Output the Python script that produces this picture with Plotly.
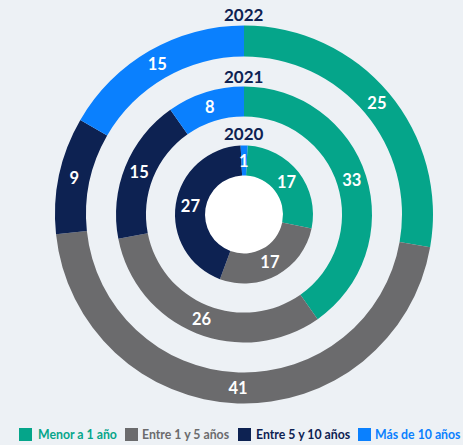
import math
import plotly.graph_objects as go

# ---- data ----
categories = ["Menor a 1 año", "Entre 1 y 5 años", "Entre 5 y 10 años", "Más de 10 años"]
years = ["2022", "2021", "2020"]
values_2022 = [25, 41, 9, 15]
values_2021 = [33, 26, 15, 8]
values_2020 = [17, 17, 27, 1]

# ---- style ----
W, H = 463, 445
BG = "#edf1f5"
COLORS = ["#05a58a", "#6b6b6d", "#0d2252", "#0a80fe"]
NAVY = "#0d2252"
FONT = "Lato"
LABEL_SIZE = 16.5

CX, CY = 244, 214.5  # ring centre in pixels (from top-left)
rings = [
    # (year, values, outer radius px, hole fraction, rotation, slices labelled by pie)
    ("2022", values_2022, 189, 0.836, 0, None),
    ("2021", values_2021, 128, 0.766, 0, None),
    ("2020", values_2020, 69, 0.565, 3, [3]),  # tiny slice label placed mid-ring below
]


def px_to_paper_x(px):
    return px / W


def px_to_paper_y(py):
    return (H - py) / H


fig = go.Figure()
annotations = []
for year, vals, r, hole, rot, manual in rings:
    manual = manual or []
    positions = ["none" if i in manual else "inside" for i in range(len(vals))]
    fig.add_trace(go.Pie(
        labels=categories,
        values=vals,
        name=year,
        hole=hole,
        sort=False,
        direction="clockwise",
        rotation=rot,
        marker=dict(colors=COLORS, line=dict(width=0)),
        textinfo="value",
        textposition=positions,
        insidetextorientation="horizontal",
        textfont=dict(family=FONT, size=LABEL_SIZE, color="white", weight="bold"),
        domain=dict(
            x=[px_to_paper_x(CX - r), px_to_paper_x(CX + r)],
            y=[px_to_paper_y(CY + r), px_to_paper_y(CY - r)],
        ),
        showlegend=False,
        hoverinfo="label+value",
    ))
    # labels of very thin slices: centred in the ring at the slice's mid angle
    total = sum(vals)
    for i in manual:
        start = sum(vals[:i]) / total * 360 + rot
        mid = math.radians(start + vals[i] / total * 360 / 2)
        rm = r * (1 + hole) / 2
        annotations.append(dict(
            text=str(vals[i]),
            x=px_to_paper_x(CX + rm * math.sin(mid)),
            y=px_to_paper_y(CY - rm * math.cos(mid)),
            xref="paper", yref="paper", xanchor="center", yanchor="middle",
            showarrow=False,
            font=dict(family=FONT, size=LABEL_SIZE, color="white", weight="bold"),
        ))

# white centre disc
hole_r = 39.5
shapes = [dict(
    type="circle", xref="paper", yref="paper", layer="below",
    x0=px_to_paper_x(CX - hole_r), x1=px_to_paper_x(CX + hole_r),
    y0=px_to_paper_y(CY + hole_r), y1=px_to_paper_y(CY - hole_r),
    fillcolor="white", line=dict(width=0),
)]

# year titles above each ring
year_y = {"2022": 15, "2021": 76.5, "2020": 133}
for year in years:
    annotations.append(dict(
        text=year, x=px_to_paper_x(CX - 0.5), y=px_to_paper_y(year_y[year]),
        xref="paper", yref="paper", xanchor="center", yanchor="middle",
        showarrow=False, font=dict(family=FONT, size=17, color=NAVY, weight="bold"),
    ))

# custom legend (coloured labels)
legend_marker_x = [19, 125, 238, 358]
legend_text_x = [36, 140, 254, 373]
legend_y = 434.5
msize = 13
for cat, col, mx, tx in zip(categories, COLORS, legend_marker_x, legend_text_x):
    shapes.append(dict(
        type="rect", xref="paper", yref="paper",
        x0=px_to_paper_x(mx), x1=px_to_paper_x(mx + msize),
        y0=px_to_paper_y(legend_y + msize / 2), y1=px_to_paper_y(legend_y - msize / 2),
        fillcolor=col, line=dict(width=0),
    ))
    annotations.append(dict(
        text=cat, x=px_to_paper_x(tx), y=px_to_paper_y(legend_y),
        xref="paper", yref="paper", xanchor="left", yanchor="middle",
        showarrow=False, font=dict(family=FONT, size=12.3, color=col, weight="bold"),
    ))

fig.update_layout(
    width=W, height=H,
    margin=dict(l=0, r=0, t=0, b=0),
    paper_bgcolor=BG, plot_bgcolor=BG,
    shapes=shapes, annotations=annotations,
    uniformtext=dict(minsize=LABEL_SIZE, mode="show"),
    showlegend=False,
)

fig.write_html(
    "out.html",
    config={"displayModeBar": False},
    post_script="document.body.style.margin='0';document.body.style.padding='0';",
)
